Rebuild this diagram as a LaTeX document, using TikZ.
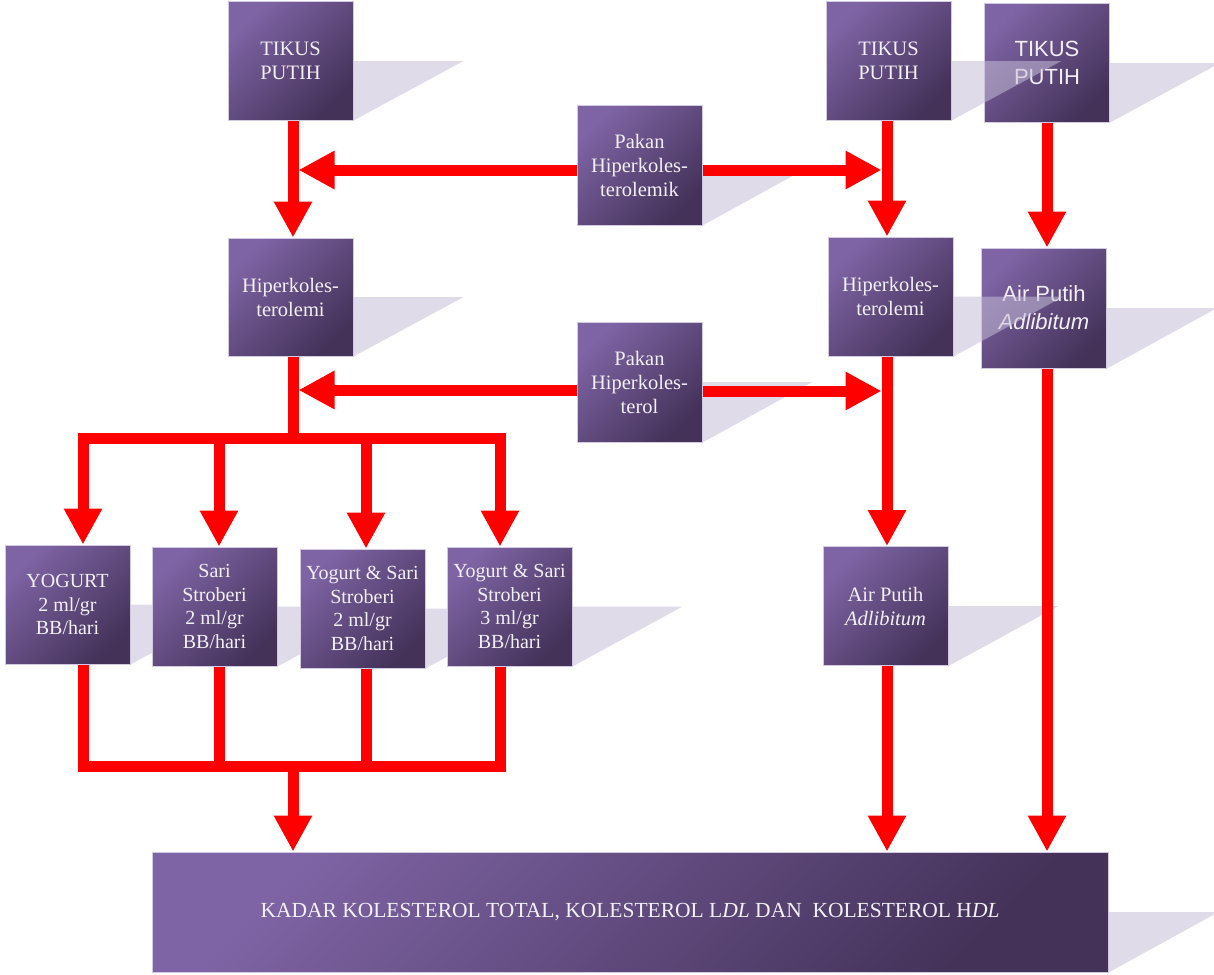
\documentclass[tikz,border=0pt]{standalone}
\usepackage{fontspec}
\setmainfont{Liberation Serif}
\newfontfamily\arialfont{Liberation Sans}
\usetikzlibrary{arrows.meta}
\definecolor{boxA}{HTML}{7E64A4}
\definecolor{boxB}{HTML}{443259}
\definecolor{boxline}{HTML}{D2CAE2}
\definecolor{shadowc}{HTML}{C6BED8}
\definecolor{txt}{HTML}{F3EFF7}
\definecolor{arrred}{HTML}{FF0000}
\newcommand\boxshadow[1]{\fill[shadowc, fill opacity=0.54] (#1.east) -- ([xshift=110pt]#1.east) -- (#1.south east) -- cycle;}
\tikzset{
  pbox/.style={rectangle, inner sep=0pt, minimum width=125pt, minimum height=118pt,
    top color=boxA, bottom color=boxB, shading angle=45, draw=boxline, line width=1pt,
    text=txt, align=center, font={\fontsize{20.5pt}{24pt}\selectfont}},
  sbox/.style={pbox, font={\fontsize{20pt}{23.5pt}\selectfont}},
  abox/.style={pbox, font={\arialfont\fontsize{22pt}{28pt}\selectfont}},
  conn/.style={draw=arrred, line width=11pt},
  arr/.style={conn, -{Triangle[width=36pt,length=36pt]}}
}
\begin{document}
\begin{tikzpicture}[x=1pt,y=-1pt]
\fill[white] (0,0) rectangle (1214,974);
\useasboundingbox (0,0) rectangle (1214,974);

% boxes with their shadows
\node[pbox] (tp1) at (290.5,61) {TIKUS\\PUTIH}; \boxshadow{tp1}
\node[abox] (tp3) at (1047,63) {TIKUS\\PUTIH}; \boxshadow{tp3}
\node[pbox] (tp2) at (888.5,61) {TIKUS\\PUTIH}; \boxshadow{tp2}
\node[pbox, minimum height=120pt] (pk1) at (639.5,165) {Pakan\\Hiperkoles-\\terolemik}; \boxshadow{pk1}
\node[pbox] (hk1) at (290.5,297) {Hiperkoles-\\terolemi}; \boxshadow{hk1}
\node[abox, minimum height=120pt] (ap2) at (1044,308) {Air Putih\\\textit{Adlibitum}}; \boxshadow{ap2}
\node[pbox, minimum height=119pt] (hk2) at (890.5,296.5) {Hiperkoles-\\terolemi}; \boxshadow{hk2}
\node[pbox, minimum height=120pt] (pk2) at (639.5,382) {Pakan\\Hiperkoles-\\terol}; \boxshadow{pk2}
\node[sbox, minimum height=119pt] (y1) at (67.5,604.5) {YOGURT\\2 ml/gr\\BB/hari}; \boxshadow{y1}
\node[sbox, minimum height=119pt] (y2) at (214.5,606.5) {Sari\\Stroberi\\2 ml/gr\\BB/hari}; \boxshadow{y2}
\node[sbox, minimum height=119pt] (y3) at (362.5,608.5) {Yogurt \& Sari\\Stroberi\\2 ml/gr\\BB/hari}; \boxshadow{y3}
\node[sbox, minimum height=119pt] (y4) at (509.5,606.5) {Yogurt \& Sari\\Stroberi\\3 ml/gr\\BB/hari}; \boxshadow{y4}
\node[pbox, minimum height=119pt] (ap1) at (885.5,606) {Air Putih\\\textit{Adlibitum}}; \boxshadow{ap1}
\node[pbox, minimum width=956pt, minimum height=120pt, font={\fontsize{21.5pt}{24pt}\selectfont}] (bot) at (630,912)
  {KADAR KOLESTEROL TOTAL, KOLESTEROL L\textit{DL} DAN\ \ KOLESTEROL H\textit{DL}}; \boxshadow{bot}

% junction coordinates
\coordinate (cL) at (293,0);
\coordinate (cM) at (887,0);
\coordinate (cR) at (1047,0);
\coordinate (jL1) at (293,170);
\coordinate (jM1) at (887,170);
\coordinate (jL2) at (293,390);
\coordinate (jM2) at (887,391);
\coordinate (b1) at (83,438);
\coordinate (b2) at (219,438);
\coordinate (b3) at (366,438);
\coordinate (b4) at (500,438);
\coordinate (bc) at (293,438);
\coordinate (c1) at (83,766);
\coordinate (c2) at (219,766);
\coordinate (c3) at (366,766);
\coordinate (c4) at (500,766);
\coordinate (cc) at (293,766);

% left column
\draw[arr] (tp1.south -| cL) -- (hk1.north -| cL);
\draw[arr] (pk1.west |- jL1) -- ([xshift=5.5pt]jL1);
\draw[arr] (pk2.west |- jL2) -- ([xshift=5.5pt]jL2);
\draw[conn] (hk1.south -| cL) -- (bc);
\draw[conn, line cap=rect] (b1) -- (b4);
\draw[arr] (b1) -- (b1 |- y1.north);
\draw[arr] (b2) -- (b2 |- y2.north);
\draw[arr] (b3) -- (b3 |- y3.north);
\draw[arr] (b4) -- (b4 |- y4.north);
\draw[conn] (y1.south -| c1) -- (c1);
\draw[conn] (y2.south -| c2) -- (c2);
\draw[conn] (y3.south -| c3) -- (c3);
\draw[conn] (y4.south -| c4) -- (c4);
\draw[conn, line cap=rect] (c1) -- (c4);
\draw[arr] (cc) -- (cc |- bot.north);

% middle column
\draw[arr] (tp2.south -| cM) -- (hk2.north -| cM);
\draw[arr] (pk1.east |- jM1) -- ([xshift=-5.5pt]jM1);
\draw[arr] (pk2.east |- jM2) -- ([xshift=-5.5pt]jM2);
\draw[arr] (hk2.south -| cM) -- (ap1.north -| cM);
\draw[arr] (ap1.south -| cM) -- (bot.north -| cM);

% right column
\draw[arr] (tp3.south -| cR) -- (ap2.north -| cR);
\draw[arr] (ap2.south -| cR) -- (bot.north -| cR);
\end{tikzpicture}
\end{document}
